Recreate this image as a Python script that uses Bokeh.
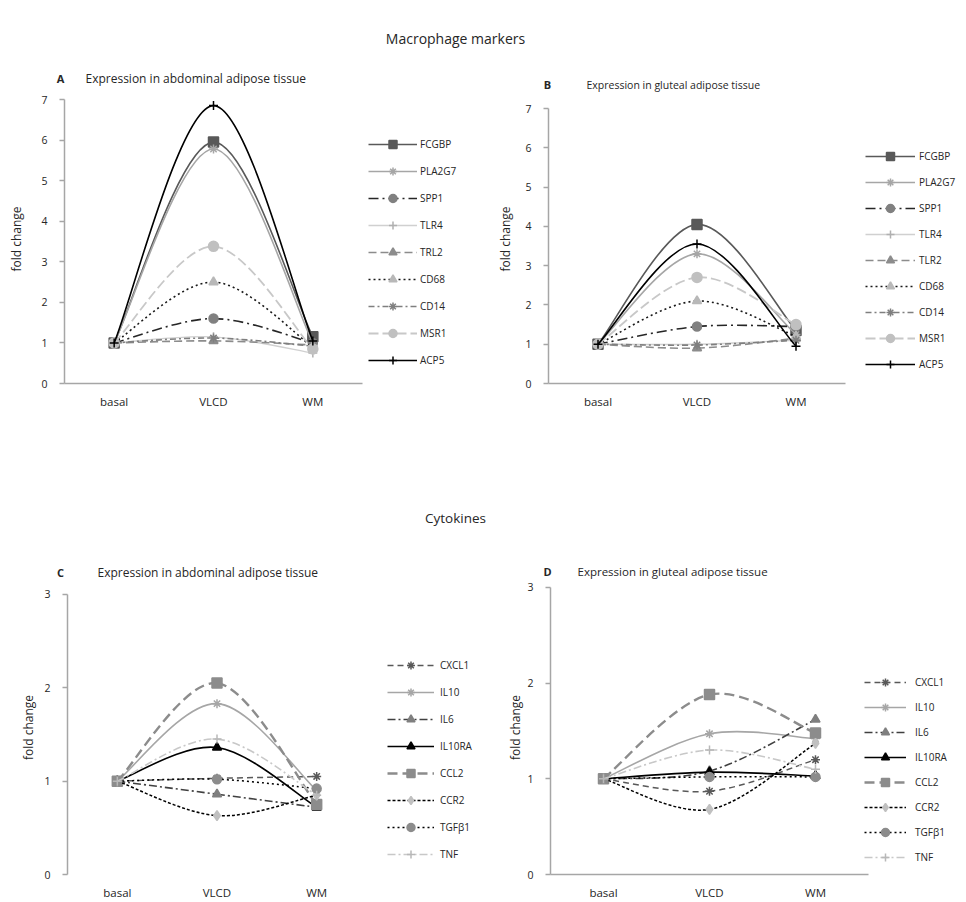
import numpy as np
from bokeh.plotting import figure
from bokeh.models import Range1d, FixedTicker, Legend, LegendItem, Label, ColumnDataSource
from bokeh.layouts import column, row
from bokeh.embed import file_html
from bokeh.resources import INLINE

FONT = "Open Sans"
TXT = "#262626"

# ---------------- data ----------------
categories = ["basal", "VLCD", "WM"]
x_index = [0, 1, 2]

# Panel A: macrophage markers, abdominal adipose tissue
genes_A = ["FCGBP", "PLA2G7", "SPP1", "TLR4", "TRL2", "CD68", "CD14", "MSR1", "ACP5"]
A_FCGBP = [1.0, 5.95, 1.15]
A_PLA2G7 = [1.0, 5.78, 1.00]
A_SPP1 = [1.0, 1.60, 1.00]
A_TLR4 = [1.0, 1.15, 0.75]
A_TRL2 = [1.0, 1.05, 0.95]
A_CD68 = [1.0, 2.50, 0.90]
A_CD14 = [1.0, 1.12, 0.92]
A_MSR1 = [1.0, 3.38, 0.85]
A_ACP5 = [1.0, 6.85, 1.05]

# Panel B: macrophage markers, gluteal adipose tissue
genes_B = ["FCGBP", "PLA2G7", "SPP1", "TLR4", "TLR2", "CD68", "CD14", "MSR1", "ACP5"]
B_FCGBP = [1.0, 4.05, 1.35]
B_PLA2G7 = [1.0, 3.30, 1.25]
B_SPP1 = [1.0, 1.45, 1.45]
B_TLR4 = [1.0, 1.00, 1.10]
B_TLR2 = [1.0, 0.90, 1.15]
B_CD68 = [1.0, 2.10, 1.20]
B_CD14 = [1.0, 0.98, 1.10]
B_MSR1 = [1.0, 2.70, 1.50]
B_ACP5 = [1.0, 3.55, 0.95]

# Panel C: cytokines, abdominal adipose tissue
genes_C = ["CXCL1", "IL10", "IL6", "IL10RA", "CCL2", "CCR2", "TGF\u03b21", "TNF"]
C_CXCL1 = [1.0, 1.03, 1.05]
C_IL10 = [1.0, 1.83, 0.90]
C_IL6 = [1.0, 0.86, 0.72]
C_IL10RA = [1.0, 1.36, 0.72]
C_CCL2 = [1.0, 2.05, 0.75]
C_CCR2 = [1.0, 0.63, 0.85]
C_TGFB1 = [1.0, 1.02, 0.92]
C_TNF = [1.0, 1.45, 0.85]

# Panel D: cytokines, gluteal adipose tissue
genes_D = ["CXCL1", "IL10", "IL6", "IL10RA", "CCL2", "CCR2", "TGF\u03b21", "TNF"]
D_CXCL1 = [1.0, 0.87, 1.20]
D_IL10 = [1.0, 1.47, 1.42]
D_IL6 = [1.0, 1.08, 1.62]
D_IL10RA = [1.0, 1.07, 1.03]
D_CCL2 = [1.0, 1.88, 1.48]
D_CCR2 = [1.0, 0.68, 1.37]
D_TGFB1 = [1.0, 1.02, 1.02]
D_TNF = [1.0, 1.30, 1.10]

series_A = [A_FCGBP, A_PLA2G7, A_SPP1, A_TLR4, A_TRL2, A_CD68, A_CD14, A_MSR1, A_ACP5]
series_B = [B_FCGBP, B_PLA2G7, B_SPP1, B_TLR4, B_TLR2, B_CD68, B_CD14, B_MSR1, B_ACP5]
series_C = [C_CXCL1, C_IL10, C_IL6, C_IL10RA, C_CCL2, C_CCR2, C_TGFB1, C_TNF]
series_D = [D_CXCL1, D_IL10, D_IL6, D_IL10RA, D_CCL2, D_CCR2, D_TGFB1, D_TNF]

# ---------------- styles ----------------
def st(color, dash, marker, mcolor, width=1.6, size=9):
    return dict(color=color, dash=dash, marker=marker, mcolor=mcolor, width=width, size=size)

macro_styles = [
    st("#595959", "solid", "square", "#595959", 1.6, 10),
    st("#a6a6a6", "solid", "asterisk", "#a6a6a6", 1.6, 9),
    st("#262626", "10 4 2 4", "circle", "#808080", 1.6, 9),
    st("#d0d0d0", "solid", "cross", "#b0b0b0", 1.4, 9),
    st("#8c8c8c", "8 4", "triangle", "#8c8c8c", 1.6, 9),
    st("#1a1a1a", "2 3", "triangle", "#b8b8b8", 1.6, 9),
    st("#7f7f7f", "6 3 2 3", "asterisk", "#7f7f7f", 1.6, 9),
    st("#c8c8c8", "10 4", "circle", "#c0c0c0", 1.8, 10),
    st("#000000", "solid", "cross", "#000000", 1.6, 9),
]

cyto_styles = [
    st("#595959", "6 4", "asterisk", "#595959", 1.5, 9),
    st("#a6a6a6", "solid", "asterisk", "#a6a6a6", 1.6, 9),
    st("#404040", "8 3 2 3", "triangle", "#7f7f7f", 1.6, 9),
    st("#000000", "solid", "triangle", "#000000", 1.6, 9),
    st("#8c8c8c", "10 5", "square", "#8c8c8c", 2.4, 10),
    st("#000000", "3 2", "diamond", "#c0c0c0", 1.5, 10),
    st("#000000", "2 3", "circle", "#8c8c8c", 1.5, 9),
    st("#c8c8c8", "8 3 2 3", "cross", "#b8b8b8", 1.6, 9),
]


def smooth_segments(xs, ys):
    """Bezier control points (Catmull-Rom style) for a smoothed line through the points."""
    xs = np.asarray(xs, float)
    ys = np.asarray(ys, float)
    n = len(xs)
    d = dict(x0=[], y0=[], x1=[], y1=[], cx0=[], cy0=[], cx1=[], cy1=[])
    for i in range(n - 1):
        pm = i - 1 if i > 0 else i
        pp = i + 2 if i + 2 < n else i + 1
        d["x0"].append(xs[i]); d["y0"].append(ys[i])
        d["x1"].append(xs[i + 1]); d["y1"].append(ys[i + 1])
        d["cx0"].append(xs[i] + (xs[i + 1] - xs[pm]) / 6.0)
        d["cy0"].append(ys[i] + (ys[i + 1] - ys[pm]) / 6.0)
        d["cx1"].append(xs[i + 1] - (xs[pp] - xs[i]) / 6.0)
        d["cy1"].append(ys[i + 1] - (ys[pp] - ys[i]) / 6.0)
    return d


def make_panel(genes, series, styles, y_max, geom, leg, ylab_standoff, x_axis_line=True):
    # geom: figure width/height, left/bottom borders, pixel width/height of the plot area
    width, height, left, bottom, plot_w, plot_h = geom
    frame_w = width - left
    frame_h = height - bottom
    x_end = -0.5 + 3.0 * frame_w / plot_w
    y_end = y_max * frame_h / plot_h
    p = figure(width=width, height=height, x_range=Range1d(-0.5, x_end),
               y_range=Range1d(0, y_end), min_border_left=left, min_border_right=0,
               min_border_top=0, min_border_bottom=bottom,
               toolbar_location=None, output_backend="svg")
    p.grid.visible = False
    p.outline_line_color = None
    p.background_fill_color = "white"
    p.border_fill_color = "white"

    xa = p.xaxis[0]
    xa.bounds = (-0.5, 2.5)
    xa.ticker = FixedTicker(ticks=x_index)
    xa.major_label_overrides = {i: c for i, c in zip(x_index, categories)}
    xa.major_tick_out = 0
    xa.major_tick_in = 0
    xa.minor_tick_out = 0
    xa.minor_tick_in = 0
    xa.axis_line_color = "#a6a6a6" if x_axis_line else None
    xa.axis_line_width = 1.5
    xa.major_label_text_font = FONT
    xa.major_label_text_font_size = "11.5px"
    xa.major_label_text_color = TXT
    xa.major_label_standoff = 10

    ya = p.yaxis[0]
    ya.bounds = (0, y_max)
    ya.ticker = FixedTicker(ticks=list(range(0, y_max + 1)))
    ya.major_tick_out = 5
    ya.major_tick_in = 0
    ya.minor_tick_out = 0
    ya.minor_tick_in = 0
    ya.axis_line_color = "#a6a6a6"
    ya.axis_line_width = 1.5
    ya.major_tick_line_color = "#a6a6a6"
    ya.major_tick_line_width = 1.5
    ya.major_label_text_font = FONT
    ya.major_label_text_font_size = "10.5px"
    ya.major_label_text_color = TXT
    ya.major_label_standoff = 12
    ya.axis_label = "fold change"
    ya.axis_label_text_font = FONT
    ya.axis_label_text_font_size = "12px"
    ya.axis_label_text_font_style = "normal"
    ya.axis_label_text_color = TXT
    ya.axis_label_standoff = ylab_standoff

    items = []
    for g, ys, s in zip(genes, series, styles):
        src = ColumnDataSource(smooth_segments(x_index, ys))
        rb = p.bezier(x0="x0", y0="y0", x1="x1", y1="y1", cx0="cx0", cy0="cy0",
                      cx1="cx1", cy1="cy1", source=src, line_color=s["color"],
                      line_width=s["width"], line_dash=s["dash"])
        rs = p.scatter(x=x_index, y=ys, marker=s["marker"], size=s["size"],
                       fill_color=s["mcolor"], line_color=s["mcolor"], line_width=1.5)
        items.append(LegendItem(label=g, renderers=[rb, rs]))

    lx_off, ly_off = leg["loc"]
    legend = Legend(items=items, location=(plot_w + lx_off, ly_off), margin=0, padding=0,
                    spacing=leg["spacing"], glyph_width=leg["gw"], glyph_height=20,
                    label_height=20, label_standoff=leg["standoff"],
                    label_text_font=FONT, label_text_font_size="10px",
                    label_text_color=TXT, border_line_color=None,
                    background_fill_alpha=0)
    p.add_layout(legend)
    return p


def header(width, height, texts):
    h = figure(width=width, height=height, x_range=Range1d(0, 1), y_range=Range1d(0, 1),
               min_border=0, x_axis_location=None, y_axis_location=None,
               toolbar_location=None, output_backend="svg")
    h.grid.visible = False
    h.outline_line_color = None
    for (text, x, y, size, style, align) in texts:
        h.add_layout(Label(x=x, y=y, x_units="screen", y_units="screen", text=text,
                           text_font=FONT, text_font_size=size, text_color=TXT,
                           text_font_style=style, text_align=align,
                           text_baseline="middle"))
    return h


H1 = 94
h1 = header(966, H1, [
    ("Macrophage markers", 455, H1 - 38, "14px", "normal", "center"),
    ("A", 60, H1 - 78, "11px", "bold", "center"),
    ("Expression in abdominal adipose tissue", 85, H1 - 78, "12px", "normal", "left"),
    ("B", 547, H1 - 84, "11px", "bold", "center"),
    ("Expression in gluteal adipose tissue", 586, H1 - 84, "10.5px", "normal", "left"),
])
row1_h = 420 - H1
pA = make_panel(genes_A, series_A, macro_styles, 7, (483, row1_h, 64, 37, 298, 284),
                dict(loc=(6, 13), spacing=7, gw=49, standoff=3), 13)
pB = make_panel(genes_B, series_B, macro_styles, 7, (483, row1_h, 65, 37, 297, 275),
                dict(loc=(20, 9), spacing=6, gw=50, standoff=4), 8)

TOP2 = 580
h2 = header(966, TOP2 - 420, [
    ("Cytokines", 455, TOP2 - 517, "13.5px", "normal", "center"),
    ("C", 60, TOP2 - 572, "11px", "bold", "center"),
    ("Expression in abdominal adipose tissue", 97, TOP2 - 572, "12px", "normal", "left"),
    ("D", 547, TOP2 - 571, "11px", "bold", "center"),
    ("Expression in gluteal adipose tissue", 577, TOP2 - 571, "11.5px", "normal", "left"),
])
row2_h = 902 - TOP2
pC = make_panel(genes_C, series_C, cyto_styles, 3, (483, row2_h, 67, 26, 299, 282),
                dict(loc=(21, 10), spacing=7, gw=47, standoff=6), 4, x_axis_line=False)
pD = make_panel(genes_D, series_D, cyto_styles, 3, (483, row2_h, 67, 25, 318, 290),
                dict(loc=(-4, 7), spacing=5, gw=42, standoff=9), 0)

layout = column(h1, row(pA, pB), h2, row(pC, pD))
open("out.html", "w").write(file_html(layout, INLINE))
